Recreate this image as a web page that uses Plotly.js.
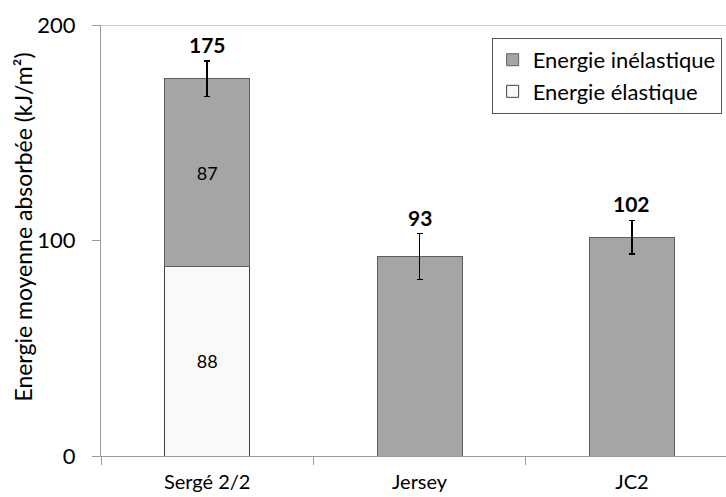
<!DOCTYPE html>
<html>
<head>
<meta charset="utf-8">
<script src="https://cdn.plot.ly/plotly-3.0.1.min.js"></script>
<style>html,body{margin:0;padding:0;background:#fff;}#chart{width:726px;height:497px;}</style>
</head>
<body>
<div id="chart"></div>
<script>
const categories = ["Sergé 2/2", "Jersey", "JC2"];
const elastic = [88, null, null];
const inelastic = [87, 92.5, 101.5];
const errors = [8.2, 10.7, 7.8];
const totalLabels = ["175", "93", "102"];
const elasticText = ["88", "", ""];
const inelasticText = ["87", "", ""];
const yTicks = [0, 100, 200];

const FONT = "Lato, 'Open Sans', sans-serif";

const traceElastic = {
  type: "bar", name: "Energie élastique", x: categories, y: elastic,
  text: elasticText, textposition: "inside", insidetextanchor: "middle", textangle: 0,
  textfont: {family: FONT, size: 18, color: "#000"},
  marker: {color: "#f9f9f9", line: {color: "#404040", width: 1}},
  width: 0.4, legendgroup: "a", hoverinfo: "skip"
};
const traceInelastic = {
  type: "bar", name: "Energie inélastique", x: categories, y: inelastic,
  text: inelasticText, textposition: "inside", insidetextanchor: "middle", textangle: 0,
  textfont: {family: FONT, size: 18, color: "#000"},
  marker: {color: "#a5a5a5", line: {color: "#5f5f5f", width: 1}},
  error_y: {type: "data", array: errors, visible: true, color: "#000", thickness: 1.5, width: 3},
  width: 0.4, legendgroup: "b", hoverinfo: "skip"
};

const annotations = categories.map((c, i) => ({
  x: c, y: (elastic[i] || 0) + inelastic[i] + errors[i], xref: "x", yref: "y",
  text: "<b>" + totalLabels[i] + "</b>", showarrow: false, yanchor: "bottom", yshift: 2,
  font: {family: FONT, size: 21, color: "#000"}
}));
annotations.push({
  xref: "paper", yref: "paper", x: 0, xshift: -78, y: 0.53, xanchor: "center", yanchor: "middle",
  textangle: -90, showarrow: false,
  text: "Energie moyenne absorbée (kJ/m²)", font: {family: FONT, size: 23, color: "#000"}
});

const layout = {
  width: 726, height: 497,
  margin: {l: 101, r: 0, t: 25, b: 41, pad: 0},
  paper_bgcolor: "#fff", plot_bgcolor: "#fff",
  barmode: "stack",
  showlegend: true,
  legend: {
    x: 0.993, xanchor: "right", y: 0.97, yanchor: "top",
    traceorder: "reversed", tracegroupgap: 18,
    bordercolor: "#555", borderwidth: 1, bgcolor: "#fff",
    font: {family: FONT, size: 22, color: "#000"}
  },
  xaxis: {
    type: "category", range: [-0.5, 2.443], showgrid: false, zeroline: false,
    showline: true, linecolor: "#9a9a9a", linewidth: 1,
    ticks: "outside", tickson: "boundaries", ticklen: 8, tickcolor: "#9a9a9a",
    ticklabelstandoff: 8,
    tickfont: {family: FONT, size: 20, color: "#000"}
  },
  yaxis: {
    range: [0, 200], tickvals: yTicks, ticktext: yTicks.map(String),
    showgrid: false, zeroline: false,
    showline: true, linecolor: "#9a9a9a", linewidth: 1,
    ticks: "outside", ticklen: 8, tickcolor: "#9a9a9a",
    ticklabelstandoff: 12,
    tickfont: {family: FONT, size: 22, color: "#000"}
  },
  shapes: [{type: "line", xref: "paper", yref: "y", x0: 0, x1: 1, y0: 200, y1: 200,
            line: {color: "#9a9a9a", width: 1}}],
  annotations: annotations
};

Plotly.newPlot("chart", [traceElastic, traceInelastic], layout, {displayModeBar: false, staticPlot: true});
</script>
</body>
</html>
